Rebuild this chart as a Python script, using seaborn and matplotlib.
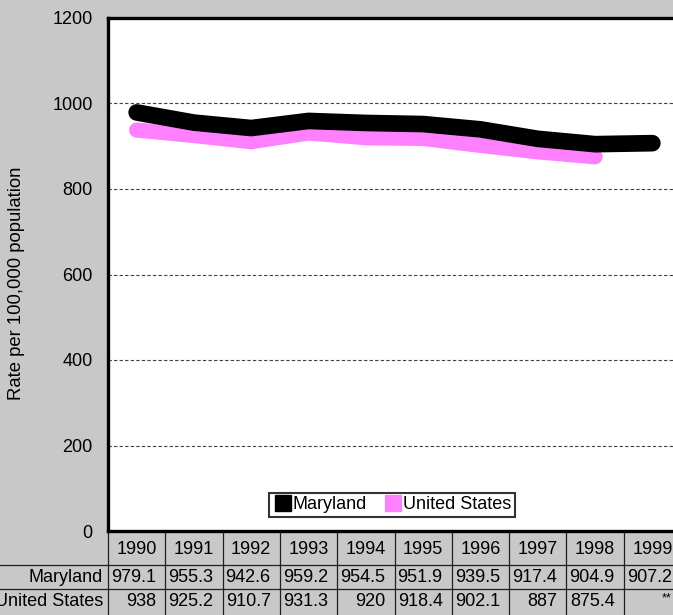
import numpy as np
import pandas as pd
import seaborn as sns
import matplotlib.pyplot as plt
from matplotlib.lines import Line2D

plt.rcParams['font.family'] = ['Liberation Sans', 'DejaVu Sans']
plt.rcParams['font.size'] = 13

years = ['1990', '1991', '1992', '1993', '1994', '1995', '1996', '1997', '1998', '1999']
maryland = [979.1, 955.3, 942.6, 959.2, 954.5, 951.9, 939.5, 917.4, 904.9, 907.2]
united_states = [938, 925.2, 910.7, 931.3, 920, 918.4, 902.1, 887, 875.4, np.nan]
us_missing_label = '**'
yticks = [0, 200, 400, 600, 800, 1000, 1200]

colors = {'Maryland': 'black', 'United States': '#FF80FF'}

df = pd.DataFrame({
    'pos': list(range(len(years))) * 2,
    'rate': maryland + united_states,
    'series': ['Maryland'] * len(years) + ['United States'] * len(years),
})

W, H = 673, 615
bg = '#C8C8C8'
fs = 13
fig = plt.figure(figsize=(W / 100, H / 100), dpi=100, facecolor=bg)

# plot area in pixels (right side runs off the picture like the original)
px_left, px_right, px_top, px_bottom = 108, 681, 18, 531
ax = fig.add_axes([px_left / W, (H - px_bottom) / H,
                   (px_right - px_left) / W, (px_bottom - px_top) / H])
ax.set_facecolor('white')

# US first so Maryland sits on top
sns.lineplot(data=df[df.series == 'United States'], x='pos', y='rate',
             color=colors['United States'], linewidth=11, solid_capstyle='round',
             ax=ax, legend=False)
sns.lineplot(data=df[df.series == 'Maryland'], x='pos', y='rate',
             color=colors['Maryland'], linewidth=12, solid_capstyle='round',
             ax=ax, legend=False)

ax.set_xlim(-0.5, len(years) - 0.5)
ax.set_ylim(0, 1200)
ax.set_yticks(yticks)
ax.set_xticks([])
ax.set_xlabel('')
ax.set_ylabel('')
ax.tick_params(axis='y', length=0, pad=11, labelsize=fs)
ax.yaxis.grid(True, linestyle=(0, (3, 2)), color='#404040', linewidth=0.8)
ax.set_axisbelow(True)
for s in ax.spines.values():
    s.set_linewidth(2.4)
    s.set_color('black')

fig.text(17 / W, 1 - 283 / H, 'Rate per 100,000 population', rotation=90,
         ha='center', va='center', fontsize=13.3)

# legend
handles = [Line2D([], [], marker='s', linestyle='none', markersize=12,
                  markerfacecolor=colors[k], markeredgecolor=colors[k]) for k in colors]
leg = ax.legend(handles, list(colors), loc='center', bbox_to_anchor=(0.4956, 0.051),
                ncol=2, frameon=True, fancybox=False, handletextpad=0.0,
                columnspacing=0.9, borderpad=0.2, handlelength=1.1, fontsize=fs)
leg.get_frame().set_edgecolor('black')
leg.get_frame().set_linewidth(1.5)

# data table under the plot
def ay(py):
    return (px_bottom - py) / (px_bottom - px_top)

xt = ax.get_xaxis_transform()
cell_pad = 0.16
row_y = {'year': 549, 'md': 577, 'us': 601}
for i, yr in enumerate(years):
    ax.text(i, ay(row_y['year']), yr, transform=xt, ha='center', va='center',
            fontsize=fs, clip_on=False)
    ax.text(i + 0.5 - cell_pad, ay(row_y['md']), f'{maryland[i]:g}', transform=xt,
            ha='right', va='center', fontsize=fs, clip_on=False)
    if np.isnan(united_states[i]):
        ax.text(i + 0.5 - cell_pad, ay(row_y['us'] - 3), us_missing_label, transform=xt,
                ha='right', va='center', fontsize=9, clip_on=False)
    else:
        ax.text(i + 0.5 - cell_pad, ay(row_y['us']), f'{united_states[i]:g}', transform=xt,
                ha='right', va='center', fontsize=fs, clip_on=False)

fig.text(103 / W, 1 - row_y['md'] / H, 'Maryland', ha='right', va='center', fontsize=fs)
fig.text(103 / W, 1 - row_y['us'] / H, 'United States', ha='right', va='center', fontsize=fs)

for i in range(len(years) + 1):
    ax.plot([i - 0.5, i - 0.5], [0, ay(H)], transform=xt, color='#202020',
            linewidth=0.9, clip_on=False)
for py in (565, 589):
    fig.add_artist(Line2D([0, 1], [1 - py / H, 1 - py / H], transform=fig.transFigure,
                          color='#202020', linewidth=0.9))

fig.savefig('out.png', dpi=100, facecolor=bg)
